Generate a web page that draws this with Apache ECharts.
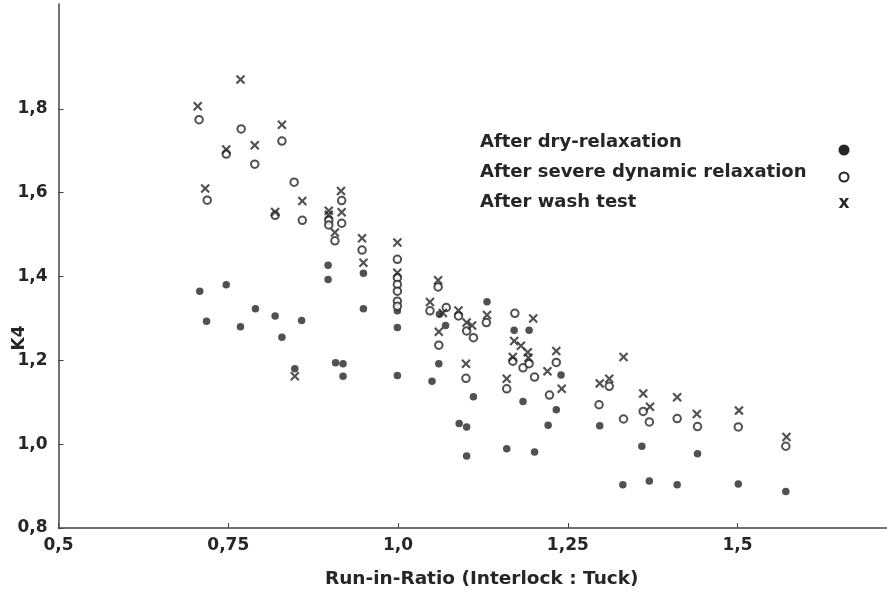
<!DOCTYPE html>
<html>
<head>
<meta charset="utf-8">
<title>K4 vs Run-in-Ratio</title>
<script src="https://cdn.jsdelivr.net/npm/echarts@6/dist/echarts.min.js"></script>
<style>
  html, body { margin: 0; padding: 0; background: #fff; }
  #chart { width: 887px; height: 592px; }
</style>
</head>
<body>
<div id="chart"></div>
<script>
// tick values / labels (decimal comma as in the print)
var xTickValues = [0.5, 0.75, 1.0, 1.25, 1.5];
var xTickLabels = ['0,5', '0,75', '1,0', '1,25', '1,5'];
var yTickValues = [0.8, 1.0, 1.2, 1.4, 1.6, 1.8];
var yTickLabels = ['0,8', '1,0', '1,2', '1,4', '1,6', '1,8'];

var seriesNames = ['After dry-relaxation', 'After severe dynamic relaxation', 'After wash test'];

// [run-in-ratio, K4]
var dryPoints = [
  [0.708, 1.365], [0.718, 1.293], [0.747, 1.380], [0.768, 1.280], [0.790, 1.323],
  [0.819, 1.306], [0.829, 1.255], [0.858, 1.295], [0.848, 1.180], [0.897, 1.427],
  [0.897, 1.393], [0.908, 1.194], [0.919, 1.192], [0.919, 1.162], [0.949, 1.408],
  [0.949, 1.323], [0.999, 1.318], [0.999, 1.278], [0.999, 1.164], [1.050, 1.150],
  [1.061, 1.310], [1.070, 1.283], [1.060, 1.192], [1.111, 1.113], [1.090, 1.049],
  [1.101, 1.041], [1.101, 0.972], [1.131, 1.340], [1.171, 1.272], [1.193, 1.272],
  [1.184, 1.102], [1.160, 0.989], [1.201, 0.981], [1.240, 1.165], [1.233, 1.082],
  [1.221, 1.045], [1.297, 1.044], [1.331, 0.903], [1.359, 0.995], [1.370, 0.912],
  [1.411, 0.903], [1.441, 0.977], [1.501, 0.905], [1.571, 0.887]
];

var severePoints = [
  [0.707, 1.774], [0.719, 1.582], [0.747, 1.692], [0.769, 1.752], [0.789, 1.668],
  [0.819, 1.546], [0.829, 1.723], [0.847, 1.625], [0.859, 1.534], [0.898, 1.534],
  [0.898, 1.523], [0.907, 1.485], [0.917, 1.581], [0.917, 1.527], [0.947, 1.463],
  [0.999, 1.441], [0.999, 1.397], [0.999, 1.381], [0.999, 1.365], [0.999, 1.341],
  [0.999, 1.329], [1.047, 1.318], [1.059, 1.375], [1.071, 1.326], [1.060, 1.236],
  [1.089, 1.306], [1.101, 1.270], [1.111, 1.254], [1.100, 1.157], [1.130, 1.290],
  [1.172, 1.312], [1.169, 1.198], [1.184, 1.182], [1.193, 1.192], [1.201, 1.160],
  [1.160, 1.132], [1.233, 1.195], [1.223, 1.117], [1.311, 1.138], [1.296, 1.094],
  [1.332, 1.060], [1.361, 1.078], [1.370, 1.053], [1.411, 1.061], [1.441, 1.042],
  [1.501, 1.041], [1.571, 0.995]
];

var washPoints = [
  [0.705, 1.806], [0.716, 1.610], [0.747, 1.703], [0.768, 1.870], [0.789, 1.713],
  [0.819, 1.554], [0.829, 1.762], [0.848, 1.162], [0.859, 1.580], [0.898, 1.557],
  [0.898, 1.547], [0.907, 1.505], [0.916, 1.604], [0.917, 1.553], [0.947, 1.491],
  [0.949, 1.433], [0.999, 1.481], [0.999, 1.409], [1.047, 1.339], [1.059, 1.391],
  [1.066, 1.313], [1.060, 1.268], [1.089, 1.319], [1.101, 1.290], [1.109, 1.283],
  [1.100, 1.192], [1.131, 1.308], [1.199, 1.300], [1.171, 1.246], [1.181, 1.235],
  [1.191, 1.219], [1.192, 1.206], [1.169, 1.208], [1.160, 1.156], [1.233, 1.222],
  [1.220, 1.174], [1.241, 1.132], [1.332, 1.208], [1.297, 1.145], [1.311, 1.156],
  [1.361, 1.121], [1.371, 1.089], [1.411, 1.112], [1.440, 1.072], [1.502, 1.080],
  [1.572, 1.017]
];

var ink = '#262626';
var font = 'DejaVu Sans';
var crossPath = 'path://M0,1.6L1.6,0L5,3.4L8.4,0L10,1.6L6.6,5L10,8.4L8.4,10L5,6.6L1.6,10L0,8.4L3.4,5Z';

function tickLabel(values, labels) {
  return function (v) {
    for (var i = 0; i < values.length; i++) {
      if (Math.abs(values[i] - v) < 1e-6) return labels[i];
    }
    return '';
  };
}

var chart = echarts.init(document.getElementById('chart'));

var option = {
  backgroundColor: '#fff',
  animation: false,
  grid: { left: 58.5, right: 0, top: 4, bottom: 64, containLabel: false, outerBoundsMode: 'none' },
  xAxis: {
    type: 'value',
    min: 0.5,
    max: 1.72,
    interval: 0.25,
    splitLine: { show: false },
    axisLine: { lineStyle: { color: '#444', width: 1.5 } },
    axisTick: { inside: true, length: 5, customValues: xTickValues, lineStyle: { color: '#444' } },
    axisLabel: {
      customValues: xTickValues,
      formatter: tickLabel(xTickValues, xTickLabels),
      margin: 9,
      color: ink,
      fontFamily: font,
      fontWeight: 'bold',
      fontSize: 17
    },
    name: 'Run-in-Ratio (Interlock : Tuck)',
    nameLocation: 'middle',
    nameGap: 42,
    nameTextStyle: { color: ink, fontFamily: font, fontWeight: 'bold', fontSize: 18.5, padding: [0, 0, 0, 18] }
  },
  yAxis: {
    type: 'value',
    min: 0.8,
    max: 2.05,
    interval: 0.2,
    splitLine: { show: false },
    axisLine: { show: true, lineStyle: { color: '#444', width: 1.5 } },
    axisTick: { show: true, inside: true, length: 5, customValues: yTickValues, lineStyle: { color: '#444' } },
    axisLabel: {
      customValues: yTickValues,
      formatter: tickLabel(yTickValues, yTickLabels),
      margin: 11,
      color: ink,
      fontFamily: font,
      fontWeight: 'bold',
      fontSize: 17
    }
  },
  series: [
    {
      name: seriesNames[0],
      type: 'scatter',
      symbol: 'circle',
      symbolSize: 7.5,
      itemStyle: { color: ink },
      data: dryPoints
    },
    {
      name: seriesNames[1],
      type: 'scatter',
      symbol: 'circle',
      symbolSize: 7.5,
      itemStyle: { color: '#fff', borderColor: ink, borderWidth: 2 },
      data: severePoints
    },
    {
      name: seriesNames[2],
      type: 'scatter',
      symbol: crossPath,
      symbolSize: 9.5,
      itemStyle: { color: ink },
      data: washPoints
    }
  ],
  graphic: [
    // y axis name, reads bottom to top
    {
      type: 'text', x: 20, y: 338, rotation: Math.PI / 2,
      style: { text: 'K4', fill: ink, font: 'bold 17px ' + font, align: 'center', verticalAlign: 'middle' }
    },
    // legend: text on the left, marker column on the right
    {
      type: 'text', x: 480, y: 142,
      style: { text: seriesNames[0], fill: ink, font: 'bold 18px ' + font, verticalAlign: 'middle' }
    },
    {
      type: 'text', x: 480, y: 172,
      style: { text: seriesNames[1], fill: ink, font: 'bold 18px ' + font, verticalAlign: 'middle' }
    },
    {
      type: 'text', x: 480, y: 202,
      style: { text: seriesNames[2], fill: ink, font: 'bold 18px ' + font, verticalAlign: 'middle' }
    },
    {
      type: 'circle', shape: { cx: 844, cy: 150, r: 5.5 },
      style: { fill: ink }
    },
    {
      type: 'circle', shape: { cx: 844, cy: 177, r: 4.5 },
      style: { fill: '#fff', stroke: ink, lineWidth: 2 }
    },
    {
      type: 'text', x: 844, y: 204,
      style: { text: 'x', fill: ink, font: 'bold 17px ' + font, align: 'center', verticalAlign: 'middle' }
    }
  ]
};

chart.setOption(option);
</script>
</body>
</html>
